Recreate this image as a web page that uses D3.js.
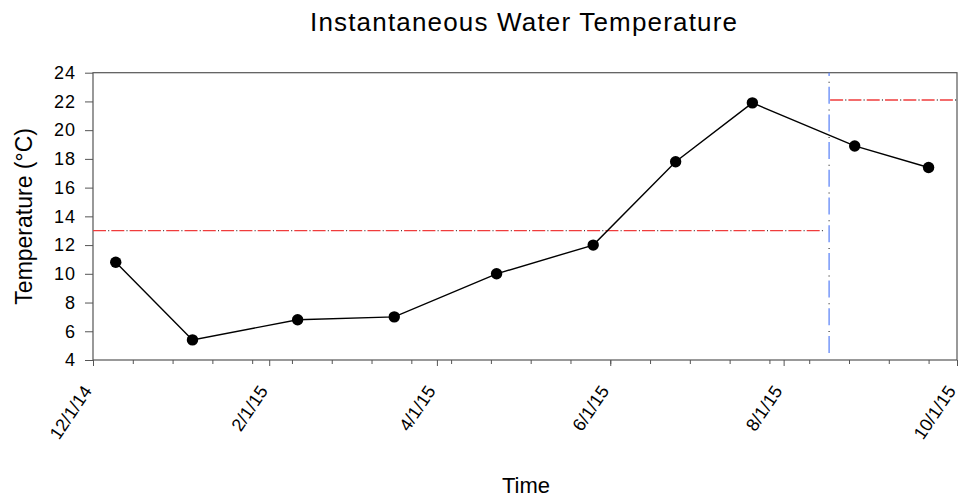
<!DOCTYPE html>
<html>
<head>
<meta charset="utf-8">
<script src="https://cdn.jsdelivr.net/npm/d3@7"></script>
<style>
  body { margin: 0; background: #fff; }
  text { font-family: Arial, "Liberation Sans", sans-serif; fill: #000; }
</style>
</head>
<body>
<svg id="chart" width="960" height="500"></svg>
<script>
// Sampling dates and measured water temperatures (°C)
const sampleDates = ["2014-12-09", "2015-01-05", "2015-02-11", "2015-03-17", "2015-04-22",
                     "2015-05-26", "2015-06-24", "2015-07-21", "2015-08-26", "2015-09-21"];
const temperatures = [10.8, 5.4, 6.8, 7.0, 10.0, 12.0, 17.8, 21.9, 18.9, 17.4];

// Axis ticks
const xTickDates = ["2014-12-01", "2015-02-01", "2015-04-01", "2015-06-01", "2015-08-01", "2015-10-01"];
const xTickLabels = ["12/1/14", "2/1/15", "4/1/15", "6/1/15", "8/1/15", "10/1/15"];
const yTickValues = [4, 6, 8, 10, 12, 14, 16, 18, 20, 22, 24];

// Temperature criteria segments and the date the criterion changes
const limitStarts = ["2014-12-01", "2015-08-17"];
const limitEnds = ["2015-08-17", "2015-10-01"];
const limitValues = [13.0, 22.1];
const changeDate = "2015-08-17";

const parse = d3.timeParse("%Y-%m-%d");
const svg = d3.select("#chart");

const plotLeft = 93, plotRight = 957, plotTop = 72.7, plotBottom = 360;
const x = d3.scaleTime()
  .domain([parse(xTickDates[0]), parse(xTickDates[xTickDates.length - 1])])
  .range([plotLeft, plotRight]);
const y = d3.scaleLinear().domain([4, 24]).range([plotBottom, plotTop]);

const axisColor = "#555";

// Title and axis titles
svg.append("text")
  .attr("x", 523.5).attr("y", 31)
  .attr("text-anchor", "middle")
  .attr("font-size", 26)
  .attr("textLength", 427).attr("lengthAdjust", "spacing")
  .text("Instantaneous Water Temperature");

svg.append("text")
  .attr("x", 526).attr("y", 493)
  .attr("text-anchor", "middle")
  .attr("font-size", 22)
  .text("Time");

svg.append("text")
  .attr("transform", `translate(32,${(plotTop + plotBottom) / 2}) rotate(-90)`)
  .attr("text-anchor", "middle")
  .attr("font-size", 23)
  .text("Temperature (°C)");

// Minor x ticks every two weeks
const minorTicks = d3.timeDay.range(x.domain()[0], d3.timeDay.offset(x.domain()[1], 1), 14);
svg.append("g")
  .attr("transform", `translate(0,${plotBottom})`)
  .call(d3.axisBottom(x).tickValues(minorTicks).tickSize(4).tickFormat(""))
  .call(g => g.select(".domain").remove())
  .call(g => g.selectAll("line").attr("stroke", axisColor));

// Major x ticks with slanted labels
const gx = svg.append("g")
  .attr("transform", `translate(0,${plotBottom})`)
  .call(d3.axisBottom(x).tickValues(xTickDates.map(parse)).tickSize(6)
    .tickFormat((d, i) => xTickLabels[i]))
  .call(g => g.select(".domain").remove())
  .call(g => g.selectAll("line").attr("stroke", axisColor));
gx.selectAll("text")
  .attr("font-size", 18)
  .attr("fill", "#000")
  .attr("text-anchor", "end")
  .attr("x", 0).attr("y", 0).attr("dy", 0)
  .attr("transform", "translate(-1,31) rotate(-56)");

// Y axis
const gy = svg.append("g")
  .attr("transform", `translate(${plotLeft},0)`)
  .call(d3.axisLeft(y).tickValues(yTickValues).tickSize(8).tickPadding(9))
  .call(g => g.select(".domain").remove())
  .call(g => g.selectAll("line").attr("stroke", axisColor));
gy.selectAll("text")
  .attr("font-size", 18)
  .attr("letter-spacing", "1px")
  .attr("fill", "#000");

// Plot frame
svg.append("rect")
  .attr("x", plotLeft).attr("y", plotTop)
  .attr("width", plotRight - plotLeft).attr("height", plotBottom - plotTop)
  .attr("fill", "none").attr("stroke", axisColor).attr("stroke-width", 1.2);

// Criteria lines: red dashes with small dark dots between them
const limits = limitValues.map((v, i) => ({ x1: parse(limitStarts[i]), x2: parse(limitEnds[i]), v }));
const limitG = svg.append("g");
limits.forEach((d, i) => {
  const x1 = x(d.x1) + (i === 0 ? 0 : 1), x2 = x(d.x2) - (i === 0 ? 5 : 0);
  limitG.append("line")
    .attr("x1", x1).attr("x2", x2).attr("y1", y(d.v)).attr("y2", y(d.v))
    .attr("stroke", "#f03c3c").attr("stroke-width", 1.3)
    .attr("stroke-dasharray", "13 5.3");
  limitG.append("line")
    .attr("x1", x1).attr("x2", x2).attr("y1", y(d.v)).attr("y2", y(d.v))
    .attr("stroke", "#444").attr("stroke-width", 1.3)
    .attr("stroke-dasharray", "0 15.2 1 2.1");
});

// Vertical line where the criterion changes: blue dashes with dark dots
const cx = x(parse(changeDate));
svg.append("line")
  .attr("x1", cx).attr("x2", cx).attr("y1", plotTop).attr("y2", plotBottom - 4)
  .attr("stroke", "#6288f7").attr("stroke-width", 1.3)
  .attr("stroke-dasharray", "17 10.7")
  .attr("stroke-dashoffset", -14);
svg.append("line")
  .attr("x1", cx).attr("x2", cx).attr("y1", plotTop).attr("y2", plotBottom - 4)
  .attr("stroke", "#444").attr("stroke-width", 1.3)
  .attr("stroke-dasharray", "0 9 1 17.7");

// Temperature series
const points = sampleDates.map((d, i) => ({ date: parse(d), t: temperatures[i] }));
svg.append("path")
  .datum(points)
  .attr("fill", "none").attr("stroke", "#000").attr("stroke-width", 1.4)
  .attr("d", d3.line().x(d => x(d.date)).y(d => y(d.t)));
svg.append("g").selectAll("circle")
  .data(points).join("circle")
  .attr("cx", d => x(d.date)).attr("cy", d => y(d.t))
  .attr("r", 5.7).attr("fill", "#000");
</script>
</body>
</html>
